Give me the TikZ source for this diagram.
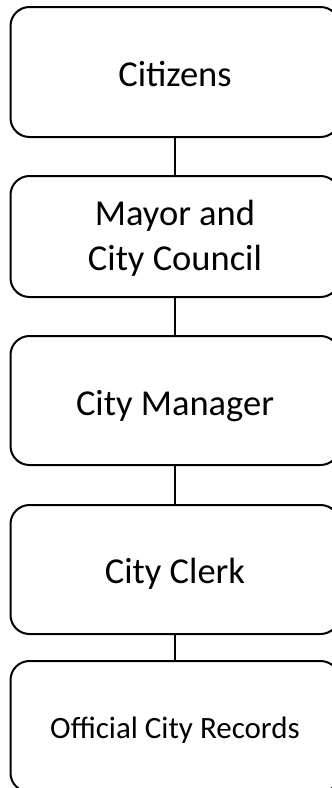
\documentclass[tikz,border=0pt]{standalone}
\usepackage{fontspec}
\setmainfont{Carlito}
\begin{document}
\begin{tikzpicture}[x=1pt,y=1pt,
  box/.style={draw=black, line width=2pt, rounded corners=19pt, minimum width=329pt, inner sep=0pt, fill=white},
  lbl/.style={font=\fontsize{36.5}{45}\selectfont, inner sep=0pt, align=center},
  small/.style={font=\fontsize{31}{38}\selectfont, inner sep=0pt},
  link/.style={draw=black, line width=2pt}]
\useasboundingbox (0,0) rectangle (332,-788);
\clip (0,0) rectangle (332,-788);
\fill[white] (0,0) rectangle (332,-788);
\node[box, minimum height=130pt] (b1) at (175,-72) {};
\node[box, minimum height=121pt] (b2) at (175,-236.5) {};
\node[box, minimum height=129pt] (b3) at (175,-400.5) {};
\node[box, minimum height=129pt] (b4) at (175,-569.5) {};
\node[box, minimum height=131pt] (b5) at (175,-726.5) {};
\draw[link] (b1.south) -- (b2.north);
\draw[link] (b2.south) -- (b3.north);
\draw[link] (b3.south) -- (b4.north);
\draw[link] (b4.south) -- (b5.north);
\node[lbl, anchor=base] (t1) at (175,-86) {Citizens};
\node[lbl] (t2) at (175,-238) {Mayor and\\City Council};
\node[lbl, anchor=base] (t3) at (175,-415) {City Manager};
\node[lbl, anchor=base] (t4) at (175,-583) {City Clerk};
\node[small, anchor=base] (t5) at (175,-738) {Official City Records};
\end{tikzpicture}
\end{document}
